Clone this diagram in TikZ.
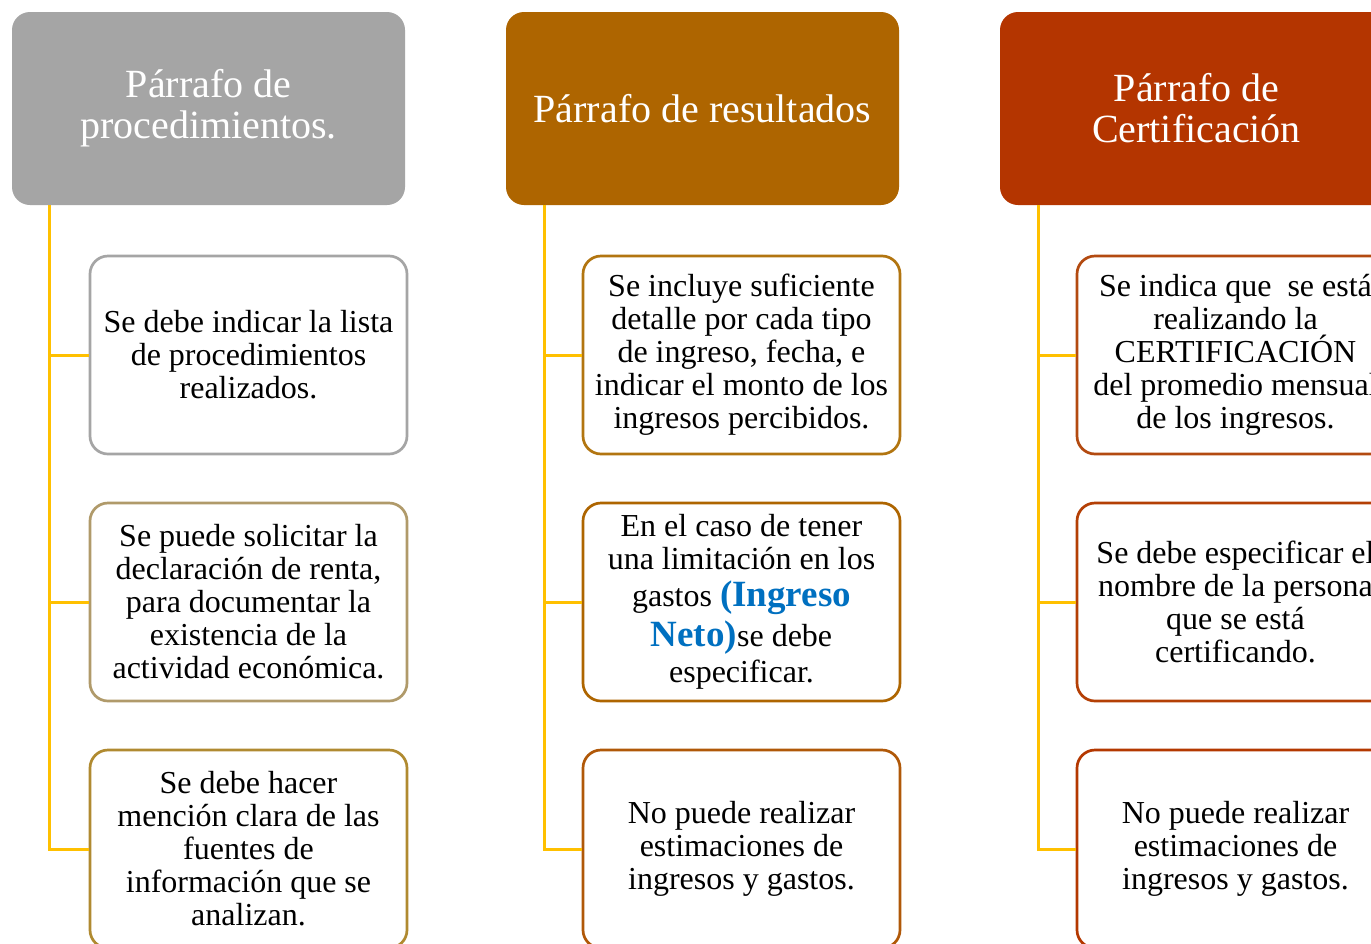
\documentclass[tikz,border=0pt]{standalone}
\usepackage{fontspec}
\setmainfont{Liberation Serif}
\definecolor{hgray}{HTML}{A5A5A5}
\definecolor{horange}{HTML}{AE6500}
\definecolor{hred}{HTML}{B43500}
\definecolor{conn}{HTML}{FFC000}
\definecolor{b12}{HTML}{B09A6A}
\definecolor{b13}{HTML}{B08A30}
\definecolor{b21}{HTML}{B27510}
\definecolor{b22}{HTML}{AE6500}
\definecolor{b23}{HTML}{B05808}
\definecolor{b31}{HTML}{B34A10}
\definecolor{b32}{HTML}{B43F05}
\definecolor{b33}{HTML}{B43800}
\definecolor{netoblue}{HTML}{0070C0}
\tikzset{
  hdr/.style={rectangle, rounded corners=18pt, minimum width=393pt, minimum height=193pt,
    inner sep=0pt, align=center, text=white, font=\fontsize{40}{41}\selectfont},
  child/.style={rectangle, rounded corners=18pt, minimum width=317pt, minimum height=198pt,
    inner sep=0pt, align=center, fill=white, line width=2.7pt, text=black,
    font=\fontsize{32}{33}\selectfont},
  connline/.style={draw=conn, line width=3pt},
}
\begin{document}
\begin{tikzpicture}[x=1pt,y=-1pt]
\useasboundingbox (0,0) rectangle (1371,943);
\clip (0,0) rectangle (1371,943);
\fill[white] (0,0) rectangle (1371,943);
% headers
\node[hdr, fill=hgray] (h1) at (208.5,108.5) {Párrafo de\\procedimientos.};
\node[hdr, fill=horange] (h2) at (702.5,108.5) {Párrafo de resultados};
\node[hdr, fill=hred] (h3) at (1196.5,108.5) {Párrafo de\\Certificación};
% trunk coordinates
\coordinate (t1) at ([xshift=38pt]h1.south west);
\coordinate (t2) at ([xshift=39pt]h2.south west);
\coordinate (t3) at ([xshift=39pt]h3.south west);
% children column 1
\node[child, draw=hgray] (c11) at (248.5,355) {Se debe indicar la lista\\de procedimientos\\realizados.};
\node[child, draw=b12] (c12) at (248.5,602) {Se puede solicitar la\\declaración de renta,\\para documentar la\\existencia de la\\actividad económica.};
\node[child, draw=b13] (c13) at (248.5,849) {Se debe hacer\\mención clara de las\\fuentes de\\información que se\\analizan.};
% children column 2
\node[child, draw=b21] (c21) at (741.5,355) {Se incluye suficiente\\detalle por cada tipo\\de ingreso, fecha, e\\indicar el monto de los\\ingresos percibidos.};
\node[child, draw=b22] (c22) at (741.5,602) {En el caso de tener\\una limitación en los\\[4pt]gastos {\bfseries\color{netoblue}\fontsize{37}{40}\selectfont (Ingreso}\\[5pt]{\bfseries\color{netoblue}\fontsize{37}{40}\selectfont Neto)}se debe\\[3pt]especificar.};
\node[child, draw=b23] (c23) at (741.5,849) {No puede realizar\\estimaciones de\\ingresos y gastos.};
% children column 3
\node[child, draw=b31] (c31) at (1235.5,355) {Se indica que~ se está\\realizando la\\CERTIFICACIÓN\\del promedio mensual\\de los ingresos.};
\node[child, draw=b32] (c32) at (1235.5,602) {Se debe especificar el\\nombre de la persona\\que se está\\certificando.};
\node[child, draw=b33] (c33) at (1235.5,849) {No puede realizar\\estimaciones de\\ingresos y gastos.};
% connectors
\draw[connline] (t1) |- (c11.west);
\draw[connline] (t1) |- (c12.west);
\draw[connline] (t1) |- (c13.west);
\draw[connline] (t2) |- (c21.west);
\draw[connline] (t2) |- (c22.west);
\draw[connline] (t2) |- (c23.west);
\draw[connline] (t3) |- (c31.west);
\draw[connline] (t3) |- (c32.west);
\draw[connline] (t3) |- (c33.west);
\end{tikzpicture}
\end{document}
